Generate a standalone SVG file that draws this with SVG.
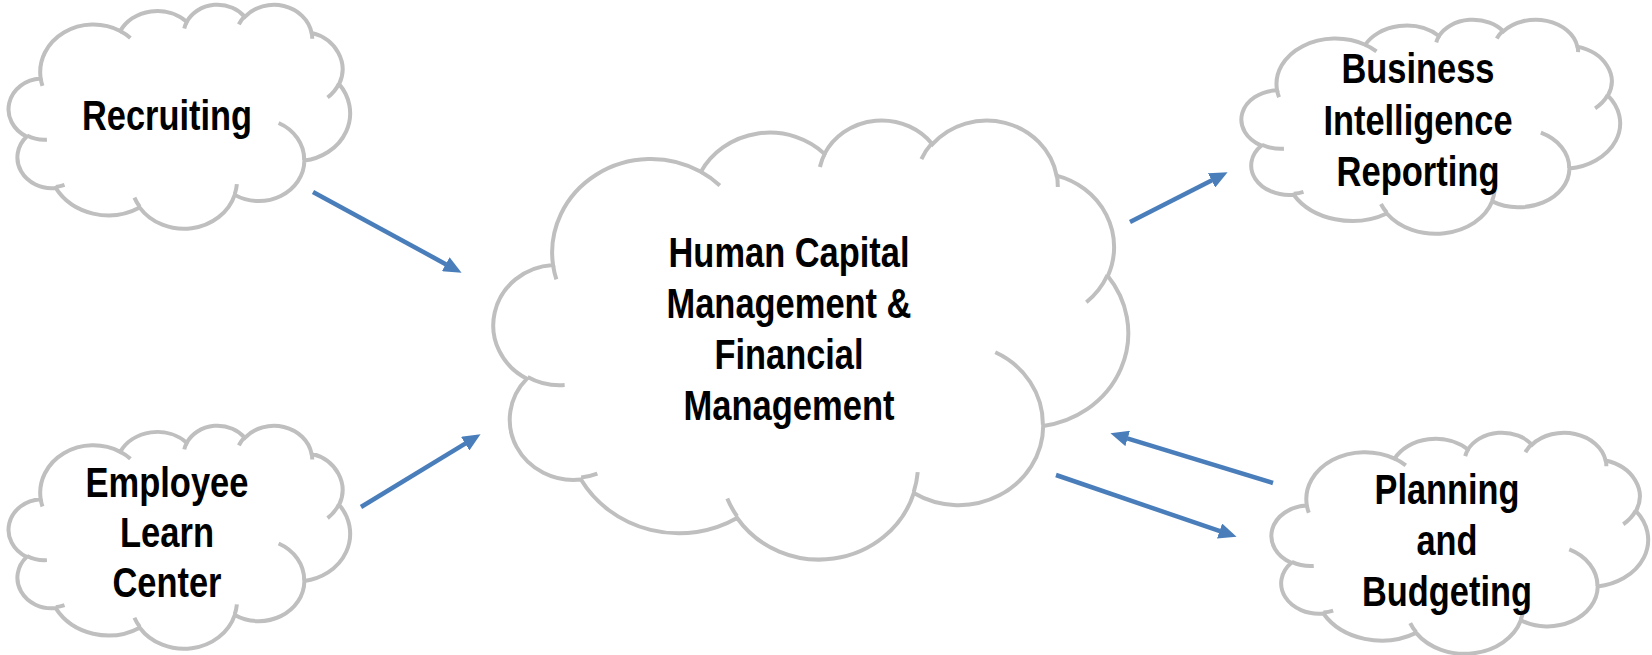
<svg xmlns="http://www.w3.org/2000/svg" xmlns:xlink="http://www.w3.org/1999/xlink" width="1652" height="655" viewBox="0 0 1652 655">
  <style>
    .cloud-outline { fill: #FFFFFF; stroke: #BFBFBF; stroke-width: 4; vector-effect: non-scaling-stroke; }
    .cloud-inner { fill: none; stroke: #BFBFBF; stroke-width: 4; vector-effect: non-scaling-stroke; }
    .label { font-family: "Liberation Sans Narrow", "Arial Narrow", "Liberation Sans", Arial, sans-serif; font-weight: bold; font-size: 42px; fill: #000000; text-anchor: middle; }
    .conn { fill: none; stroke: #4A7EBB; stroke-width: 4.5; marker-end: url(#ah); }
  </style>
  <defs>
    <marker id="ah" markerUnits="userSpaceOnUse" markerWidth="19" markerHeight="16" viewBox="0 -8 19 16" refX="0.5" refY="0" orient="auto">
      <path d="M0,-8 L18,0 L0,8 Z" fill="#4A7EBB"/>
    </marker>
    <g id="cloud">
      <path class="cloud-outline" d="M90.28,332.64 A156.32,212.73 0 0 1 324.21,120.43 A123.45,168.22 0 0 1 519.82,79.39 A101.04,137.62 0 0 1 690.61,57.37 A112.43,152.66 0 0 1 887.00,129.05 A123.45,168.36 0 0 1 968.03,357.84 A156.83,213.43 0 0 1 865.85,699.09 A133.91,182.11 0 0 1 661.02,852.11 A156.30,213.31 0 0 1 381.51,908.88 A178.70,244.05 0 0 1 134.43,821.14 A100.93,136.99 0 0 1 48.97,591.50 A100.58,137.62 0 0 1 90.28,332.64 Z"/>
      <path class="cloud-inner" d="M108.63,605.95 A100.58,137.62 0 0 1 50.00,587.50 M160.37,807.85 A100.93,136.99 0 0 1 134.69,816.69 M381.44,904.86 A156.30,213.31 0 0 1 365.95,864.53 M667.29,804.42 A156.30,213.31 0 0 1 661.12,848.61 M790.02,531.34 A133.91,182.11 0 0 1 865.29,696.53 M967.55,355.42 A123.45,168.36 0 0 1 934.04,417.35 M887.13,125.60 A112.43,152.66 0 0 1 888.90,154.85 M673.10,91.48 A112.43,152.66 0 0 1 690.29,54.13 M512.52,109.26 A101.04,137.62 0 0 1 520.83,77.10 M324.07,120.19 A156.32,212.73 0 0 1 354.13,151.36 M95.53,365.49 A156.32,212.73 0 0 1 90.28,332.64"/>
    </g>
  </defs>

  <g id="node-recruiting">
    <use xlink:href="#cloud" href="#cloud" transform="translate(10,4) scale(0.340,0.224)"/>
    <text class="label" x="167" y="130" textLength="170" lengthAdjust="spacingAndGlyphs">Recruiting</text>
  </g>

  <g id="node-employee-learn-center">
    <use xlink:href="#cloud" href="#cloud" transform="translate(10,425) scale(0.340,0.223)"/>
    <text class="label" x="167" y="497" textLength="163" lengthAdjust="spacingAndGlyphs">Employee</text>
    <text class="label" x="167" y="547" textLength="94" lengthAdjust="spacingAndGlyphs">Learn</text>
    <text class="label" x="167" y="597" textLength="109" lengthAdjust="spacingAndGlyphs">Center</text>
  </g>

  <g id="node-hcm">
    <use xlink:href="#cloud" href="#cloud" transform="translate(496,119) scale(0.632,0.439)"/>
    <text class="label" x="789" y="267" textLength="241" lengthAdjust="spacingAndGlyphs">Human Capital</text>
    <text class="label" x="789" y="318" textLength="245" lengthAdjust="spacingAndGlyphs">Management &amp;</text>
    <text class="label" x="789" y="369" textLength="149" lengthAdjust="spacingAndGlyphs">Financial</text>
    <text class="label" x="789" y="420" textLength="211" lengthAdjust="spacingAndGlyphs">Management</text>
  </g>

  <g id="node-bi-reporting">
    <use xlink:href="#cloud" href="#cloud" transform="translate(1243,19) scale(0.377,0.214)"/>
    <text class="label" x="1418" y="83" textLength="153" lengthAdjust="spacingAndGlyphs">Business</text>
    <text class="label" x="1418" y="135" textLength="189" lengthAdjust="spacingAndGlyphs">Intelligence</text>
    <text class="label" x="1418" y="186" textLength="163" lengthAdjust="spacingAndGlyphs">Reporting</text>
  </g>

  <g id="node-planning-budgeting">
    <use xlink:href="#cloud" href="#cloud" transform="translate(1273,432) scale(0.375,0.221)"/>
    <text class="label" x="1447" y="504" textLength="145" lengthAdjust="spacingAndGlyphs">Planning</text>
    <text class="label" x="1447" y="555" textLength="61" lengthAdjust="spacingAndGlyphs">and</text>
    <text class="label" x="1447" y="606" textLength="170" lengthAdjust="spacingAndGlyphs">Budgeting</text>
  </g>

  <g id="connectors">
    <path class="conn" d="M313,192 L446.2,264.4"/>
    <path class="conn" d="M361,507 L465.6,443.4"/>
    <path class="conn" d="M1130,222 L1212,180.2"/>
    <path class="conn" d="M1273,483 L1127.2,438.3"/>
    <path class="conn" d="M1056,475 L1220,531.2"/>
  </g>
</svg>
